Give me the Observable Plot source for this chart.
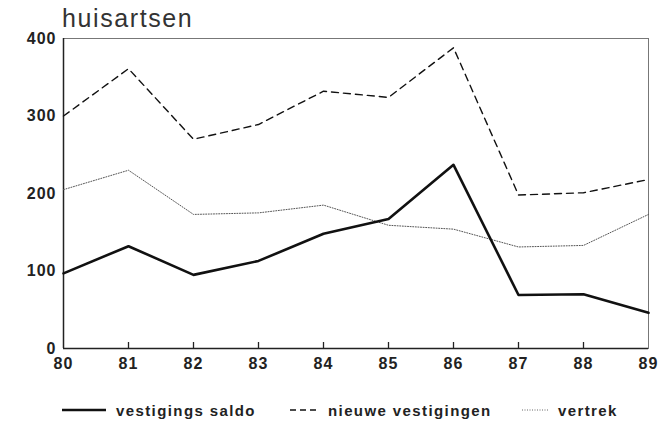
<!DOCTYPE html>
<html><head><meta charset="utf-8">
<script src="https://cdn.jsdelivr.net/npm/d3@7"></script>
<script src="https://cdn.jsdelivr.net/npm/@observablehq/plot@0.6"></script>
<style>
body{margin:0;background:#fff;width:672px;height:425px;position:relative;overflow:hidden;font-family:"Liberation Sans",Arial,sans-serif;}
#title{position:absolute;left:62px;top:4px;font-size:25px;color:#333;letter-spacing:1.6px;}
#chart{position:absolute;left:0;top:0;}
#chart svg text{letter-spacing:1px;}
#legend{position:absolute;left:0;top:400px;width:672px;height:22px;font-size:15px;font-weight:bold;color:#222;letter-spacing:1.4px;}
.item{position:absolute;top:0;display:flex;align-items:center;}
.item svg{margin-right:10px;}
</style></head>
<body>
<div id="chart"></div>
<div id="title">huisartsen</div>
<div id="legend"></div>
<script>
const years = [80,81,82,83,84,85,86,87,88,89];
const saldo = [97,132,95,113,148,167,237,69,70,46];
const nieuw = [300,361,270,289,332,324,388,198,201,218];
const vertrek = [205,230,173,175,185,159,154,131,133,173];
const yTicks = [0,100,200,300,400];
const innerTicks = [81,82,83,84,85,86,87,88];

const rows = (vals) => years.map((y,i)=>({year:y, value:vals[i]}));

const H = 425, mt = 38, mb = 77;
const frameH = H - mt - mb;

const plot = Plot.plot({
  width: 672, height: H,
  marginLeft: 63, marginRight: 24, marginTop: mt, marginBottom: mb,
  style: {fontFamily: '"Liberation Sans", Arial, sans-serif', background: "transparent"},
  x: {domain: [80,89]},
  y: {domain: [0,400]},
  marks: [
    Plot.frame({stroke: "#777", strokeWidth: 1}),
    Plot.ruleY([0], {stroke: "#222", strokeWidth: 1.5}),
    Plot.ruleX([80], {stroke: "#222", strokeWidth: 1.5}),
    Plot.tickX(innerTicks, {x: d=>d, insetTop: frameH - 6, stroke: "#222", strokeWidth: 1.3}),
    Plot.axisX(years, {tickSize: 0, tickPadding: 9, tickFormat: d=>String(d), fontSize: 16, fontWeight: "bold", fill: "#222", label: null}),
    Plot.axisY(yTicks, {tickSize: 0, tickPadding: 7, fontSize: 16, fontWeight: "bold", fill: "#222", label: null}),
    Plot.line(rows(vertrek), {x: "year", y: "value", stroke: "#555", strokeWidth: 1, strokeDasharray: "1,1.6"}),
    Plot.line(rows(nieuw), {x: "year", y: "value", stroke: "#111", strokeWidth: 1.4, strokeDasharray: "7,5"}),
    Plot.line(rows(saldo), {x: "year", y: "value", stroke: "#111", strokeWidth: 2.6})
  ]
});
document.getElementById("chart").appendChild(plot);

const legendItems = [
  {label: "vestigings saldo", left: 62, w: 44, dash: null, sw: 2.6, c: "#111"},
  {label: "nieuwe vestigingen", left: 290, w: 28, dash: "6,4", sw: 1.3, c: "#111"},
  {label: "vertrek", left: 522, w: 26, dash: "1,1.5", sw: 1, c: "#666"}
];
const leg = document.getElementById("legend");
legendItems.forEach(it=>{
  const d = document.createElement("div");
  d.className = "item";
  d.style.left = it.left + "px";
  d.innerHTML = `<svg width="${it.w}" height="20"><line x1="0" x2="${it.w}" y1="10" y2="10" stroke="${it.c}" stroke-width="${it.sw}" ${it.dash?`stroke-dasharray="${it.dash}"`:""}/></svg><span>${it.label}</span>`;
  leg.appendChild(d);
});
</script>
</body></html>
